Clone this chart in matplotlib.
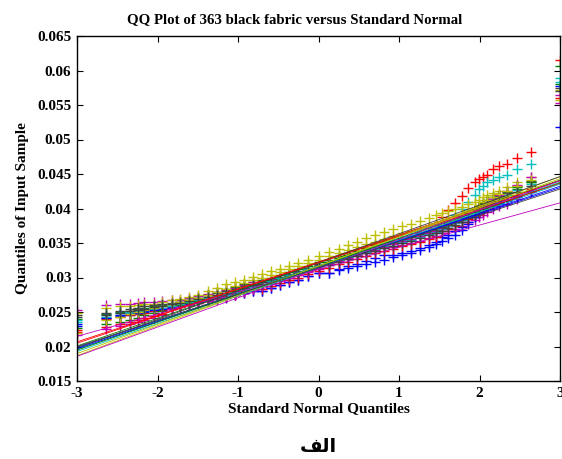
import matplotlib
matplotlib.use("Agg")
import matplotlib.pyplot as plt
import numpy as np
from statistics import NormalDist

# ---------------- data ----------------
n_obs = 363  # sample size of every column
# ranks (1..n) of the plotted order statistics
ranks = [1, 2, 3, 4, 5, 6, 8, 10, 13, 16, 20, 25, 31, 38, 46, 55, 65, 76, 88, 101,
         115, 130, 146, 163, 182, 201, 218, 234, 249, 263, 276, 288, 299, 309, 318,
         326, 333, 337, 341, 344, 347, 350, 352, 354, 355, 356, 357, 358, 359, 360,
         361, 362, 363]

# sorted sample values at those ranks (units of 1e-4)
s01 = [233, 241, 244, 246, 248, 250, 252, 254, 257, 259, 262, 265, 268, 271, 272, 274, 277, 280,
       281, 285, 289, 293, 297, 302, 307, 307, 311, 314, 317, 320, 323, 326, 329, 333, 336, 340,
       344, 348, 353, 357, 362, 369, 378, 387, 394, 398, 401, 404, 408, 412, 418, 426, 518]
s02 = [240, 247, 250, 252, 254, 256, 258, 260, 262, 264, 267, 270, 275, 279, 283, 286, 290, 294,
       296, 300, 304, 308, 312, 317, 322, 326, 331, 335, 339, 343, 347, 351, 353, 356, 359, 363,
       366, 369, 373, 377, 381, 386, 391, 396, 400, 403, 407, 411, 415, 420, 428, 438, 607]
s03 = [224, 240, 243, 245, 247, 249, 251, 253, 256, 258, 261, 264, 267, 270, 273, 276, 280, 284,
       288, 292, 296, 300, 304, 309, 314, 320, 325, 329, 333, 337, 341, 345, 350, 355, 360, 366,
       372, 378, 388, 398, 408, 418, 430, 439, 443, 446, 449, 457, 462, 464, 473, 482, 615]
s04 = [236, 243, 246, 248, 250, 252, 254, 256, 258, 260, 263, 266, 269, 272, 275, 278, 282, 286,
       290, 294, 298, 302, 306, 311, 316, 321, 326, 330, 334, 338, 342, 346, 351, 355, 358, 362,
       366, 370, 376, 382, 390, 400, 410, 420, 428, 432, 438, 441, 446, 449, 457, 464, 589]
s05 = [253, 260, 261, 262, 263, 264, 265, 266, 267, 268, 270, 273, 276, 279, 282, 285, 289, 293,
       295, 298, 301, 304, 308, 313, 318, 318, 323, 327, 331, 335, 339, 343, 344, 347, 350, 353,
       357, 360, 364, 367, 371, 375, 380, 384, 388, 391, 395, 399, 403, 407, 414, 424, 553]
s06 = [249, 256, 258, 259, 260, 261, 262, 264, 267, 269, 272, 275, 280, 285, 290, 293, 297, 301,
       305, 309, 313, 317, 321, 326, 331, 337, 342, 347, 352, 357, 362, 366, 370, 374, 378, 382,
       386, 390, 393, 396, 399, 402, 406, 410, 413, 416, 419, 422, 426, 431, 438, 446, 572]
s07 = [243, 249, 252, 254, 256, 258, 260, 262, 263, 265, 268, 271, 274, 277, 280, 283, 287, 291,
       293, 297, 301, 305, 309, 314, 319, 323, 328, 332, 336, 340, 344, 348, 352, 356, 359, 363,
       367, 370, 375, 379, 383, 388, 393, 398, 402, 406, 410, 414, 418, 423, 432, 440, 575]
s08 = [230, 242, 245, 247, 249, 251, 253, 255, 256, 258, 261, 264, 267, 269, 271, 274, 277, 280,
       281, 285, 289, 293, 297, 302, 307, 307, 312, 316, 320, 324, 328, 332, 332, 336, 339, 343,
       347, 351, 358, 362, 367, 373, 380, 388, 393, 397, 401, 404, 407, 411, 417, 425, 578]
s09 = [227, 232, 236, 239, 242, 245, 248, 251, 258, 260, 263, 266, 269, 273, 278, 281, 285, 289,
       291, 295, 299, 303, 307, 312, 317, 322, 328, 333, 338, 342, 347, 351, 353, 357, 360, 364,
       368, 371, 376, 380, 384, 389, 394, 400, 404, 408, 412, 416, 420, 424, 431, 438, 580]
s10 = [221, 228, 232, 235, 238, 241, 244, 247, 255, 257, 260, 263, 266, 269, 272, 275, 279, 283,
       284, 288, 292, 296, 300, 305, 310, 314, 319, 323, 327, 331, 335, 339, 341, 345, 348, 352,
       356, 359, 367, 371, 375, 380, 385, 390, 394, 397, 401, 405, 409, 413, 420, 428, 560]
s11 = [238, 245, 248, 250, 252, 254, 256, 258, 259, 261, 264, 267, 270, 273, 276, 279, 283, 287,
       291, 295, 299, 303, 307, 312, 317, 320, 325, 329, 333, 337, 341, 345, 348, 352, 355, 359,
       363, 366, 371, 375, 379, 384, 389, 394, 398, 402, 406, 410, 414, 419, 427, 436, 583]
s12 = [216, 226, 230, 233, 236, 239, 242, 245, 255, 257, 260, 263, 266, 269, 272, 275, 279, 283,
       287, 291, 295, 299, 303, 308, 313, 319, 324, 328, 332, 336, 340, 344, 349, 353, 356, 360,
       364, 367, 372, 376, 381, 386, 391, 397, 401, 405, 410, 414, 419, 425, 434, 445, 565]
s13 = [220, 238, 243, 247, 250, 253, 256, 259, 262, 265, 268, 271, 275, 279, 284, 288, 292, 296,
       300, 304, 308, 312, 316, 321, 326, 331, 336, 340, 344, 348, 352, 356, 360, 364, 367, 371,
       375, 378, 381, 384, 388, 392, 397, 401, 405, 409, 413, 417, 421, 425, 432, 441, 557]
s14 = [246, 246, 249, 251, 253, 255, 257, 259, 261, 263, 266, 269, 272, 275, 278, 281, 285, 289,
       290, 294, 298, 302, 306, 311, 316, 318, 323, 327, 331, 335, 339, 343, 346, 350, 353, 357,
       361, 364, 368, 372, 376, 381, 386, 391, 395, 399, 403, 407, 411, 416, 424, 433, 570]

# reference-line values at the lowest / highest theoretical quantile (units of 1e-4)
ref_line_low = [199, 201, 205, 196, 215, 187, 198, 197, 195, 207, 193, 186, 190, 200]
ref_line_high = [430, 441, 440, 438, 408, 446, 446, 432, 437, 436, 435, 440, 443, 428]

y_ticks = [0.015, 0.02, 0.025, 0.03, 0.035, 0.04, 0.045, 0.05, 0.055, 0.06, 0.065]
y_tick_labels = ["0.015", "0.02", "0.025", "0.03", "0.035", "0.04", "0.045", "0.05",
                 "0.055", "0.06", "0.065"]
x_ticks = [-3, -2, -1, 0, 1, 2, 3]

title_text = "QQ Plot of 363 black fabric versus Standard Normal"
x_label = "Standard Normal Quantiles"
y_label = "Quantiles of Input Sample"
caption = "\uFED2\uFEDF\u0627"  # "الف" in visual (shaped) order

# ---------------- plot ----------------
series = [s01, s02, s03, s04, s05, s06, s07, s08, s09, s10, s11, s12, s13, s14]
color_order = ["#0000FF", "#008000", "#FF0000", "#00BFBF", "#BF00BF", "#BFBF00", "#404040"]

serif = ["Liberation Serif", "DejaVu Serif"]
plt.rcParams["font.family"] = serif
plt.rcParams["font.weight"] = "bold"

nd = NormalDist()
xq = np.array([nd.inv_cdf((r - 0.5) / n_obs) for r in ranks])

fig = plt.figure(figsize=(5.62, 4.59), dpi=100)
ax = fig.add_axes([77 / 562, 78 / 459, (560 - 77) / 562, (381 - 36) / 459])

for i, vals in enumerate(series):
    ax.plot(xq, np.array(vals) * 1e-4, linestyle="none", marker="+",
            color=color_order[i % 7], markersize=7, markeredgewidth=1.0)
for i in range(len(series)):
    ax.plot([xq[0], xq[-1]], [ref_line_low[i] * 1e-4, ref_line_high[i] * 1e-4],
            "-", color=color_order[i % 7], linewidth=0.6)

ax.set_xlim(-3, 3)
ax.set_ylim(0.015, 0.065)
ax.set_xticks(x_ticks)
ax.set_xticklabels([str(t) for t in x_ticks])
ax.set_yticks(y_ticks)
ax.set_yticklabels(y_tick_labels)
ax.tick_params(direction="in", length=4, width=0.8, top=True, right=True,
               labelsize=11, pad=4)
for lab in ax.get_xticklabels() + ax.get_yticklabels():
    lab.set_fontweight("bold")
for sp in ax.spines.values():
    sp.set_linewidth(1.0)

ax.set_title(title_text, fontsize=10.7, fontweight="bold", pad=9,
             x=(295 - 77) / 483)
ax.set_xlabel(x_label, fontsize=11, fontweight="bold", labelpad=2)
ax.set_ylabel(y_label, fontsize=11, fontweight="bold", labelpad=6)

fig.text(318 / 562, 1 - 447 / 459, caption, ha="center", va="center",
         fontsize=14, fontweight="bold", family=["DejaVu Sans"])

fig.savefig("out.png", dpi=100)
